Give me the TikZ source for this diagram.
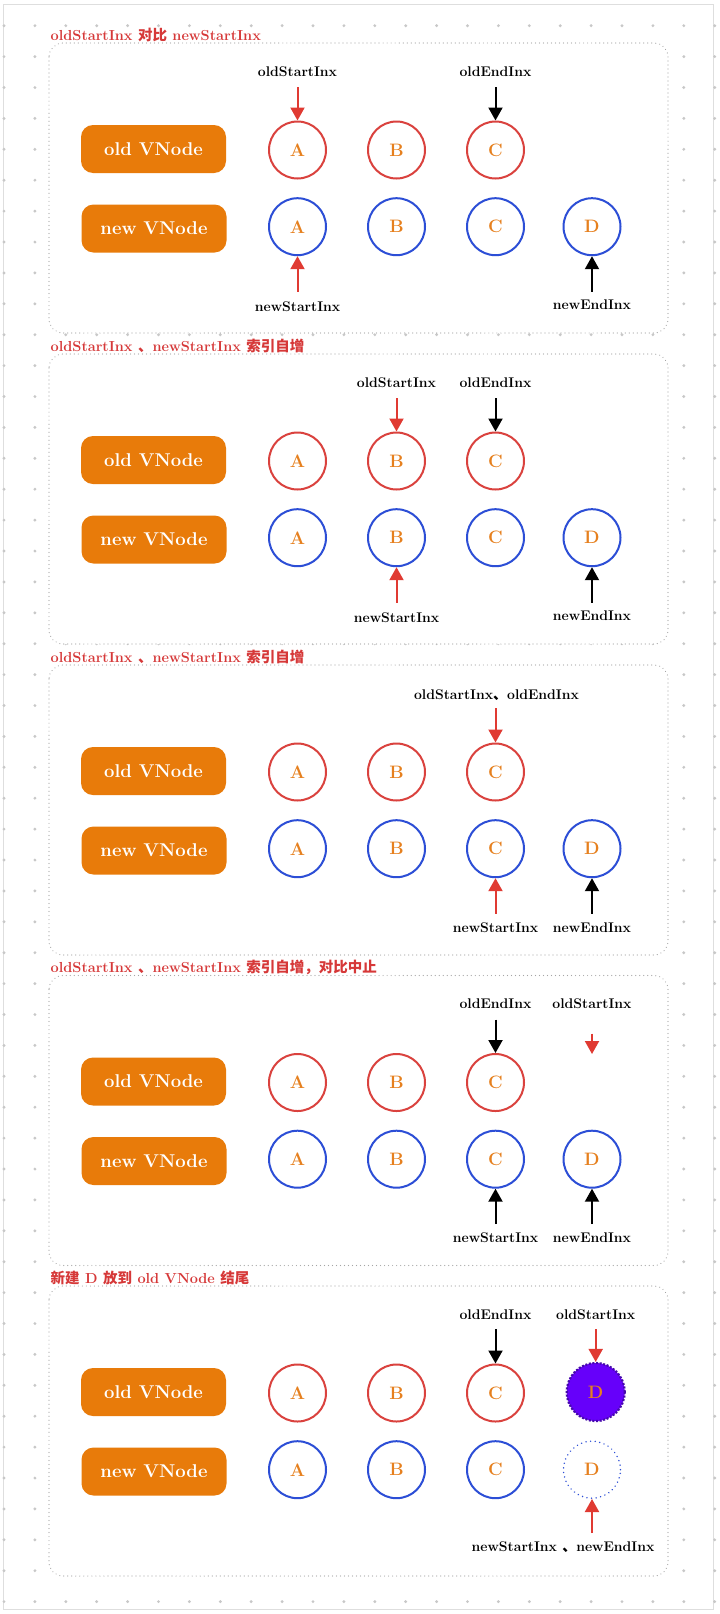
\documentclass[tikz,border=0pt]{standalone}
\usepackage{fontspec}
\newfontfamily\cjk{Noto Sans CJK SC}
\usetikzlibrary{arrows.meta}
\definecolor{framegrey}{RGB}{222,222,222}
\definecolor{dotgrey}{RGB}{200,200,200}
\definecolor{panelgrey}{RGB}{165,165,165}
\definecolor{titlered}{RGB}{214,56,56}
\definecolor{boxorange}{RGB}{232,123,10}
\definecolor{letter}{RGB}{230,128,30}
\definecolor{oldred}{RGB}{218,66,62}
\definecolor{newblue}{RGB}{44,78,214}
\definecolor{arrred}{RGB}{224,58,50}
\definecolor{dfill}{RGB}{102,0,250}
\definecolor{dborder}{RGB}{70,10,170}
\tikzset{
  panelbox/.style={draw=panelgrey, line width=1.2pt, dash pattern=on 0.01pt off 4pt, line cap=round, rounded corners=14pt, fill=white},
  ttl/.style={text=titlered, font=\bfseries\fontsize{14.5}{16}\selectfont, inner sep=0pt, anchor=base west},
  vbox/.style={fill=boxorange, rounded corners=12pt, minimum width=145pt, minimum height=48pt, text=white, font=\bfseries\fontsize{18.5}{20}\selectfont, inner sep=0pt},
  oldc/.style={circle, draw=oldred, line width=2pt, minimum size=57pt, inner sep=0pt, text=letter, font=\bfseries\fontsize{18}{20}\selectfont},
  newc/.style={oldc, draw=newblue},
  dotc/.style={oldc, draw=newblue, line width=1.6pt, dash pattern=on 0.01pt off 4.6pt, line cap=round},
  purc/.style={oldc, fill=dfill, draw=dborder, line width=2.2pt, dash pattern=on 2pt off 1.6pt, minimum size=58pt},
  lbl/.style={font=\bfseries\fontsize{14}{16}\selectfont, inner sep=0pt, anchor=base},
  redarr/.style={draw=arrred, line width=2pt, -{Triangle[width=14pt,length=13pt]}},
  blkarr/.style={draw=black, line width=2pt, -{Triangle[width=14pt,length=13pt]}}
}
\newcommand\basepanel[3]{%
  \draw[panelbox] (49,0) rectangle (668,290);
  \node[ttl] (#1ttl) at (50.5,-3) {#2};
  \node[vbox] (#1ov) at (153.5,106) {old VNode};
  \node[vbox] (#1nv) at (154,185.5) {new VNode};
  \node[oldc] (#1oA) at (297.5,107) {A};
  \node[oldc] (#1oB) at (396.5,107) {B};
  \node[oldc] (#1oC) at (495.5,107) {C};
  \node[newc] (#1nA) at (297.5,183.7) {A};
  \node[newc] (#1nB) at (396.5,183.7) {B};
  \node[newc] (#1nC) at (495.5,183.7) {C};
  \node[#3] (#1nD) at (592,183.7) {D};
}
\begin{document}
\begin{tikzpicture}[x=1pt,y=-1pt]
\useasboundingbox (0,0) rectangle (720,1614);
\fill[white] (0,0) rectangle (720,1614);
\draw[framegrey, line width=1pt] (3.5,4) rectangle (713,1609);
\foreach \i in {0,...,23}{\foreach \j in {0,...,51}{\fill[dotgrey] (4+30.9*\i,25.7+30.9*\j) circle (1.6);}}

% ---------- panel 1
\begin{scope}[shift={(0,43)}]
\basepanel{a}{oldStartInx {\cjk 对比} newStartInx}{newc}
\node[lbl] (aL1) at (297.5,33) {oldStartInx};
\node[lbl] (aL2) at (495.5,33) {oldEndInx};
\node[lbl] (aL3) at (297.5,268) {newStartInx};
\node[lbl] (aL4) at (592,266) {newEndInx};
\coordinate (aT1) at (297.5,44);
\coordinate (aT2) at (495.5,44);
\coordinate (aT3) at (297.5,248.7);
\coordinate (aT4) at (592,248.7);
\draw[redarr] (aT1) -- (aoA);
\draw[blkarr] (aT2) -- (aoC);
\draw[redarr] (aT3) -- (anA);
\draw[blkarr] (aT4) -- (anD);
\end{scope}

% ---------- panel 2
\begin{scope}[shift={(0,354)}]
\basepanel{b}{oldStartInx {\cjk 、}newStartInx {\cjk 索引自增}}{newc}
\node[lbl] (bL1) at (396.5,33) {oldStartInx};
\node[lbl] (bL2) at (495.5,33) {oldEndInx};
\node[lbl] (bL3) at (396.5,268) {newStartInx};
\node[lbl] (bL4) at (592,266) {newEndInx};
\coordinate (bT1) at (396.5,44);
\coordinate (bT2) at (495.5,44);
\coordinate (bT3) at (396.5,248.7);
\coordinate (bT4) at (592,248.7);
\draw[redarr] (bT1) -- (boB);
\draw[blkarr] (bT2) -- (boC);
\draw[redarr] (bT3) -- (bnB);
\draw[blkarr] (bT4) -- (bnD);
\end{scope}

% ---------- panel 3
\begin{scope}[shift={(0,665)}]
\basepanel{c}{oldStartInx {\cjk 、}newStartInx {\cjk 索引自增}}{newc}
\node[lbl] (cL1) at (496.5,34) {oldStartInx{\cjk 、}oldEndInx};
\node[lbl] (cL3) at (495.5,267) {newStartInx};
\node[lbl] (cL4) at (592,267) {newEndInx};
\coordinate (cT1) at (495.5,43);
\coordinate (cT3) at (495.5,248.7);
\coordinate (cT4) at (592,248.7);
\draw[redarr] (cT1) -- (coC);
\draw[redarr] (cT3) -- (cnC);
\draw[blkarr] (cT4) -- (cnD);
\end{scope}

% ---------- panel 4
\begin{scope}[shift={(0,975.5)}]
\basepanel{d}{oldStartInx {\cjk 、}newStartInx {\cjk 索引自增，对比中止}}{newc}
\node[lbl] (dL1) at (495.5,33) {oldEndInx};
\node[lbl] (dL2) at (592,33) {oldStartInx};
\node[lbl] (dL3) at (495.5,267) {newStartInx};
\node[lbl] (dL4) at (592,267) {newEndInx};
\coordinate (dT1) at (495.5,44);
\coordinate (dT2) at (592,58);
\coordinate (dH2) at (592,78.5);
\coordinate (dT3) at (495.5,248.7);
\coordinate (dT4) at (592,248.7);
\draw[blkarr] (dT1) -- (doC);
\draw[redarr] (dT2) -- (dH2);
\draw[blkarr] (dT3) -- (dnC);
\draw[blkarr] (dT4) -- (dnD);
\end{scope}

% ---------- panel 5
\begin{scope}[shift={(0,1286)}]
\basepanel{e}{{\cjk 新建} D {\cjk 放到} old VNode {\cjk 结尾}}{dotc}
\node[purc] (eoD) at (595.7,106) {D};
\node[lbl] (eL1) at (495.5,33) {oldEndInx};
\node[lbl] (eL2) at (595.7,33) {oldStartInx};
\node[lbl] (eL3) at (563,265) {newStartInx {\cjk 、}newEndInx};
\coordinate (eT1) at (495.5,43);
\coordinate (eT2) at (595.7,43);
\coordinate (eT3) at (592,247);
\draw[blkarr] (eT1) -- (eoC);
\draw[redarr] (eT2) -- (eoD);
\draw[redarr] (eT3) -- (enD);
\end{scope}
\end{tikzpicture}
\end{document}
